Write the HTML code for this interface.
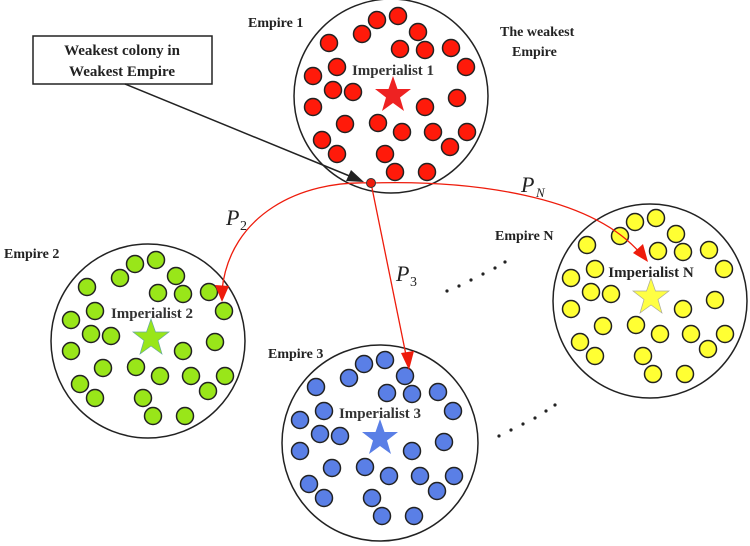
<!DOCTYPE html>
<html><head><style>body{margin:0;background:#fff}svg{display:block}</style></head><body>
<svg width="750" height="546" viewBox="0 0 750 546" xmlns="http://www.w3.org/2000/svg" font-family="Liberation Serif, serif">
<defs>
<g id="dots" stroke="#222" stroke-width="1.5">
<circle cx="-14" cy="-76" r="8.5"/><circle cx="7" cy="-80" r="8.5"/><circle cx="27" cy="-64" r="8.5"/><circle cx="-29" cy="-62" r="8.5"/><circle cx="-62" cy="-53" r="8.5"/><circle cx="9" cy="-47" r="8.5"/><circle cx="34" cy="-46" r="8.5"/><circle cx="60" cy="-48" r="8.5"/><circle cx="-78" cy="-20" r="8.5"/><circle cx="-54" cy="-29" r="8.5"/><circle cx="75" cy="-29" r="8.5"/><circle cx="-58" cy="-6" r="8.5"/><circle cx="-38" cy="-4" r="8.5"/><circle cx="-78" cy="11" r="8.5"/><circle cx="66" cy="2" r="8.5"/><circle cx="34" cy="11" r="8.5"/><circle cx="-46" cy="28" r="8.5"/><circle cx="-13" cy="27" r="8.5"/><circle cx="11" cy="36" r="8.5"/><circle cx="42" cy="36" r="8.5"/><circle cx="76" cy="36" r="8.5"/><circle cx="-69" cy="44" r="8.5"/><circle cx="-54" cy="58" r="8.5"/><circle cx="-6" cy="58" r="8.5"/><circle cx="59" cy="51" r="8.5"/><circle cx="4" cy="76" r="8.5"/><circle cx="36" cy="76" r="8.5"/>
</g>
<path id="star" d="M0,-19 L4.5,-6 L18,-6 L7,2.5 L11,16 L0,8 L-11,16 L-7,2.5 L-18,-6 L-4.5,-6 Z"/>
</defs>
<g fill="none" stroke="#222" stroke-width="1.5">
<circle cx="391" cy="96" r="97"/><circle cx="148" cy="341" r="97"/><circle cx="380" cy="443" r="98"/><circle cx="650" cy="301" r="97"/>
</g>
<use href="#dots" fill="#ff1a0a" transform="translate(391,96)"/>
<use href="#dots" fill="#99e619" transform="translate(149,340)"/>
<use href="#dots" fill="#5a7fe6" transform="translate(378,440)"/>
<use href="#dots" fill="#ffff33" transform="translate(649,298)"/>
<use href="#star" fill="#ee2222" transform="translate(393,95)"/>
<use href="#star" fill="#99e619" stroke="#6a9" stroke-width=".7" transform="translate(151,338)"/>
<use href="#star" fill="#5a7fe6" transform="translate(380,438)"/>
<use href="#star" fill="#ffff44" stroke="#aa9" stroke-width=".7" transform="translate(651,297)"/>
<g font-weight="bold" fill="#333" font-size="15" text-anchor="middle">
<text x="393" y="75">Imperialist 1</text><text x="152" y="318">Imperialist 2</text><text x="380" y="418">Imperialist 3</text><text x="651" y="277" fill="#222">Imperialist N</text>
</g>
<g font-weight="bold" fill="#222" font-size="14">
<text x="248" y="27">Empire 1</text><text x="500" y="36">The weakest</text><text x="512" y="56">Empire</text>
<text x="4" y="258">Empire 2</text><text x="268" y="358">Empire 3</text><text x="495" y="240">Empire N</text>
</g>
<rect x="33" y="36" width="179" height="48" fill="#fff" stroke="#222" stroke-width="1.5"/>
<g font-weight="bold" fill="#222" font-size="15" text-anchor="middle"><text x="122" y="55">Weakest colony in</text><text x="122" y="76">Weakest Empire</text></g>
<line x1="125" y1="84" x2="352" y2="177" stroke="#222" stroke-width="1.5"/>
<path d="M364,182 L346,181 L351,170 Z" fill="#222"/>
<g fill="none" stroke="#ee1c0c" stroke-width="1.3">
<path d="M371,183 C300,180 230,215 222,290"/>
<path d="M371,183 L407,360"/>
<path d="M371,183 C470,180 590,195 640,253"/>
</g>
<g fill="#ee1c0c">
<path d="M222,302 L215,285 L229,286 Z"/>
<path d="M409,370 L401,353 L414,351 Z"/>
<path d="M648,262 L633,253 L643,244 Z"/>
<circle cx="371" cy="183" r="4.5" stroke="#333" stroke-width="1"/>
</g>
<g font-style="italic" font-size="22" fill="#222">
<text x="226" y="225">P</text><text x="240" y="230" font-size="14" font-style="normal">2</text>
<text x="396" y="281">P</text><text x="410" y="286" font-size="14" font-style="normal">3</text>
<text x="521" y="192">P</text><text x="536" y="197" font-size="13">N</text>
</g>
<g fill="#222">
<circle cx="447" cy="291" r="1.6"/><circle cx="459" cy="286" r="1.6"/><circle cx="471" cy="280" r="1.6"/><circle cx="483" cy="274" r="1.6"/><circle cx="495" cy="268" r="1.6"/><circle cx="505" cy="262" r="1.6"/>
<circle cx="499" cy="436" r="1.6"/><circle cx="511" cy="430" r="1.6"/><circle cx="523" cy="424" r="1.6"/><circle cx="535" cy="418" r="1.6"/><circle cx="546" cy="411" r="1.6"/><circle cx="555" cy="405" r="1.6"/>
</g>
</svg>
</body></html>
